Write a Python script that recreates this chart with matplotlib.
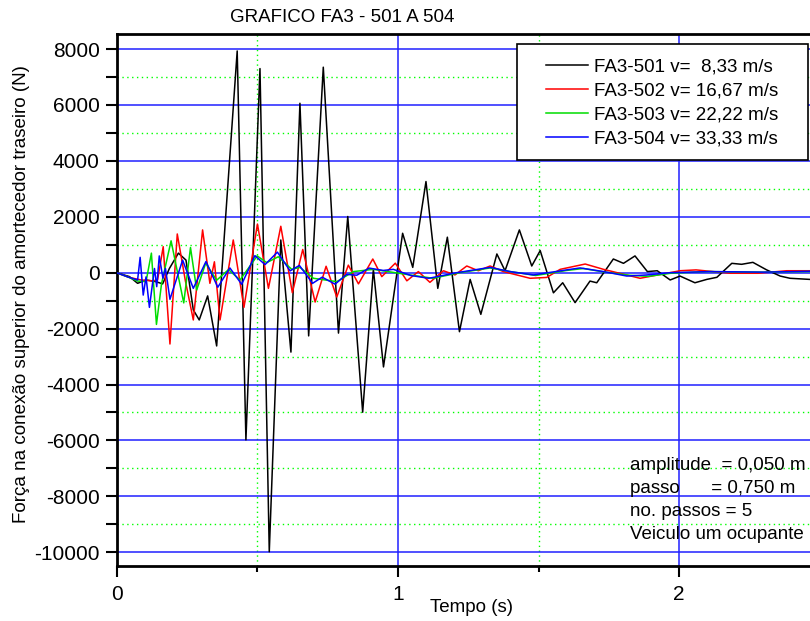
import matplotlib.pyplot as plt
from matplotlib.ticker import MultipleLocator
from matplotlib.patches import Rectangle

plt.rcParams['font.family'] = ['Liberation Sans', 'DejaVu Sans']
plt.rcParams['axes.unicode_minus'] = False

# FA3-501  v = 8,33 m/s
t_501 = [0, 0.046, 0.075, 0.105, 0.14, 0.164, 0.188, 0.220, 0.247, 0.273, 0.294,
         0.324, 0.356, 0.429, 0.460, 0.510, 0.543, 0.584, 0.620, 0.652, 0.683,
         0.735, 0.789, 0.822, 0.875, 0.913, 0.949, 1.017, 1.053, 1.100, 1.142,
         1.176, 1.219, 1.257, 1.295, 1.352, 1.381, 1.432, 1.476, 1.506, 1.553,
         1.586, 1.630, 1.683, 1.707, 1.766, 1.802, 1.843, 1.887, 1.922, 1.968,
         2.003, 2.056, 2.098, 2.134, 2.187, 2.222, 2.262, 2.311, 2.359, 2.394, 2.465]
f_501 = [0, -140, -380, -260, -320, -400, 150, 700, 450, -1330, -1690,
         -830, -2620, 7930, -5980, 7300, -9980, 1170, -2840, 6060, -2260,
         7350, -2160, 2010, -4990, 120, -3370, 1410, 190, 3260, -560,
         1270, -2110, -240, -1490, 670, 70, 1530, 240, 790, -720,
         -360, -1070, -300, -360, 490, 335, 600, 40, 70, -260,
         -120, -360, -240, -165, 335, 300, 370, 100, -120, -200, -240]

# FA3-502  v = 16,67 m/s
t_502 = [0, 0.046, 0.087, 0.129, 0.146, 0.166, 0.190, 0.216, 0.245, 0.273, 0.306,
         0.332, 0.348, 0.368, 0.415, 0.453, 0.501, 0.540, 0.584, 0.625, 0.662,
         0.706, 0.745, 0.783, 0.824, 0.860, 0.911, 0.943, 0.991, 1.032, 1.073,
         1.114, 1.162, 1.203, 1.245, 1.286, 1.328, 1.375, 1.470, 1.529, 1.577,
         1.666, 1.731, 1.861, 2.003, 2.06, 2.181, 2.28, 2.382, 2.465]
f_502 = [0, -170, -260, -290, -260, 930, -2550, 1385, -300, -1690, 1530,
         -380, 390, -1690, 1170, -1240, 1740, -560, 1660, -715, 830,
         -1050, 230, -870, 270, -400, 490, -140, 340, -290, 40,
         -345, 70, -80, 240, 70, 240, 40, -200, -170, 120,
         310, 120, -200, 70, 100, -20, -20, 70, 70]

# FA3-503  v = 22,22 m/s
t_503 = [0, 0.04, 0.075, 0.105, 0.124, 0.142, 0.160, 0.194, 0.239, 0.263, 0.285,
         0.317, 0.356, 0.398, 0.439, 0.500, 0.534, 0.575, 0.623, 0.652, 0.700,
         0.783, 0.842, 0.913, 1.043, 1.125, 1.22, 1.328, 1.40, 1.49, 1.60,
         1.66, 1.73, 1.82, 1.89, 1.97, 2.1, 2.3, 2.465]
f_503 = [0, -150, -300, -320, 700, -1850, -400, 1140, -1080, 900, -620,
         340, -270, 110, -260, 600, 360, 570, 120, 190, -200,
         -320, 40, 120, -80, -200, 0, 170, 40, -100, 80,
         150, 30, -90, -130, -20, 40, 20, 40]

# FA3-504  v = 33,33 m/s
t_504 = [0, 0.04, 0.075, 0.084, 0.095, 0.105, 0.117, 0.135, 0.143, 0.152, 0.165,
         0.174, 0.190, 0.235, 0.273, 0.318, 0.360, 0.403, 0.445, 0.492, 0.528,
         0.572, 0.617, 0.650, 0.697, 0.731, 0.777, 0.818, 0.854, 0.898, 0.948,
         0.984, 1.046, 1.11, 1.16, 1.209, 1.328, 1.399, 1.482, 1.600, 1.648,
         1.731, 1.814, 1.885, 1.968, 2.11, 2.3, 2.465]
f_504 = [0, -150, -260, 550, -800, -150, -1240, 150, -500, 600, -200,
         150, -950, 450, -560, 400, -520, 170, -415, 610, 290,
         735, 65, 260, -380, -160, -410, -60, -90, 165, 80,
         120, -100, -200, -100, 0, 190, 40, -80, 100, 170,
         40, -120, -80, 0, 40, 20, 50]

labels = ['FA3-501 v=  8,33 m/s', 'FA3-502 v= 16,67 m/s',
          'FA3-503 v= 22,22 m/s', 'FA3-504 v= 33,33 m/s']
colors = ['black', 'red', '#00dd00', 'blue']

W, H = 810, 621
fig = plt.figure(figsize=(W / 100, H / 100), dpi=100)
ax = fig.add_axes([116.5 / W, 1 - 566 / H, 1 - 116.5 / W, (566 - 34) / H])

series = [(t_501, f_501), (t_502, f_502), (t_503, f_503), (t_504, f_504)]
handles = []
for (t, f), c, lab in zip(series, colors, labels):
    h, = ax.plot(t, f, color=c, lw=1.1, label=lab, zorder=3)
    handles.append(h)

ax.set_xlim(0, 2.465)
ax.set_ylim(-10490, 8537)
ax.xaxis.set_major_locator(MultipleLocator(1))
ax.xaxis.set_minor_locator(MultipleLocator(0.5))
ax.yaxis.set_major_locator(MultipleLocator(2000))
ax.yaxis.set_minor_locator(MultipleLocator(1000))
ax.grid(which='major', color='#2020ff', lw=1.1, ls='-')
ax.grid(which='minor', color='#00ff00', lw=1.0, ls=(0, (1, 2.5)))
ax.set_axisbelow(True)

ax.spines['right'].set_visible(False)
for s in ['left', 'bottom', 'top']:
    ax.spines[s].set_linewidth(2)

ax.tick_params(axis='y', which='both', direction='out', length=8, width=1.5,
               labelsize=15, pad=4)
ax.tick_params(axis='x', which='major', direction='out', length=8, width=1.5,
               labelsize=15, pad=6)
ax.tick_params(axis='x', which='minor', direction='out', length=4, width=1.5)

fig.text(342 / W, 1 - 17 / H, 'GRAFICO FA3 - 501 A 504', ha='center', va='center', fontsize=13.5)
fig.text(472 / W, 1 - 608 / H, 'Tempo (s)', ha='center', va='center', fontsize=13.5)
fig.text(22 / W, 1 - 294 / H, 'Força na conexão superior do amortecedor traseiro (N)',
         rotation=90, ha='center', va='center', fontsize=13.5)

notes = ['amplitude  = 0,050 m', 'passo      = 0,750 m', 'no. passos = 5', 'Veiculo um ocupante']
for i, s in enumerate(notes):
    fig.text(630 / W, 1 - (465 + 23.3 * i) / H, s, ha='left', va='center', fontsize=13.5, zorder=5)

# legend frame
frame = Rectangle((517 / W, 1 - 160 / H), 291 / W, 116 / H, transform=fig.transFigure,
                  facecolor='white', edgecolor='black', lw=1.2, zorder=5, clip_on=False)
ax.add_patch(frame)
leg = ax.legend(handles=handles, loc='upper left', bbox_to_anchor=(545.7 / W, 1 - 58 / H),
                bbox_transform=fig.transFigure, frameon=False, borderpad=0, borderaxespad=0,
                handlelength=2.25, handletextpad=0.35, labelspacing=0.37, fontsize=13.5)
leg.set_zorder(6)

fig.savefig('out.png', dpi=100)
